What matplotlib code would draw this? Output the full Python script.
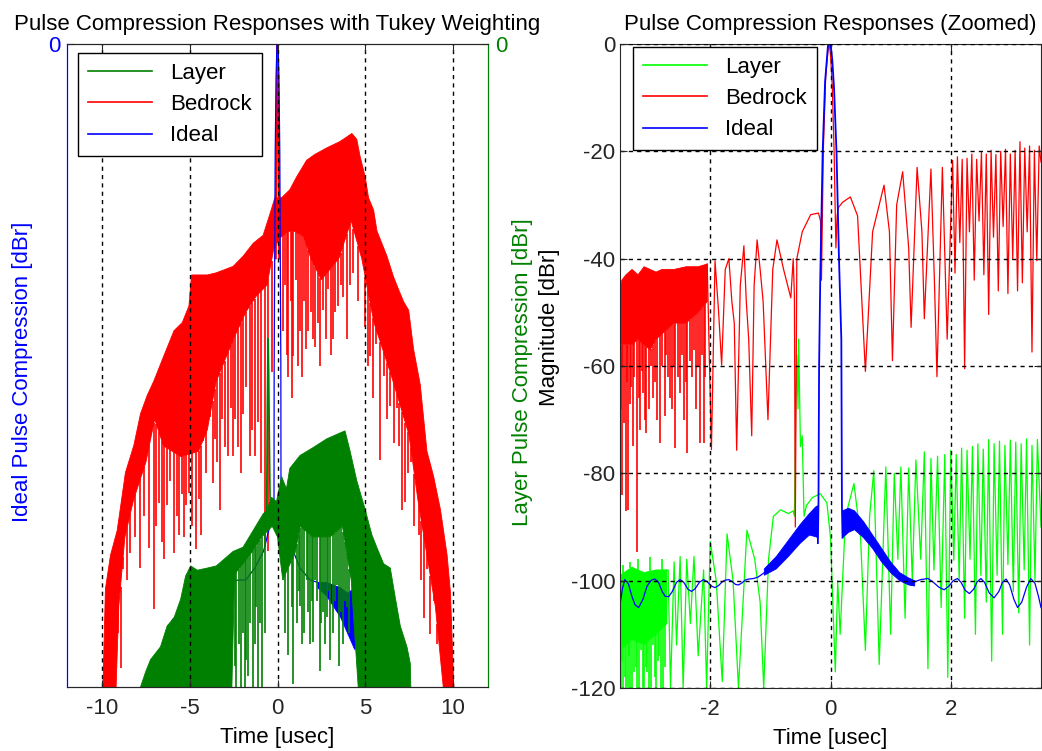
import numpy as np
import matplotlib
matplotlib.use("Agg")
import matplotlib.pyplot as plt
from matplotlib.lines import Line2D

plt.rcParams['font.family'] = ['Liberation Sans', 'DejaVu Sans']
plt.rcParams['axes.unicode_minus'] = False

# ---------------- data: left panel (full view), time [usec], level [dBr] ----------------
L_xticks = [-10, -5, 0, 5, 10]

bed_up_t = [-9.95, -9.81, -9.52, -9.14, -8.67, -8.19, -7.81, -7.43, -7.05, -6.48, -5.9, -5.43, -5.05, -4.9,
            -4.0, -3.49, -2.53, -1.96, -1.39, -0.82, -0.44, -0.15, 0.23, 0.7, 1.09, 1.66, 2.13, 2.8, 3.56,
            4.24, 4.52, 4.71, 5.0, 5.19, 5.48, 5.67, 5.95, 6.24, 6.62, 6.9, 7.19, 7.48, 7.76, 8.14, 8.52,
            8.9, 9.29, 9.67, 9.86, 10.05]
bed_up_db = [-120, -101.7, -95.4, -90.8, -80, -74.9, -69, -65.6, -62.9, -58.2, -53.5, -52, -48.9, -43.1,
             -43.1, -42.7, -41.5, -39.6, -37.2, -35.7, -31.8, -28.7, -28.7, -27.2, -24.8, -21.7, -20.6, -19.4,
             -18.2, -16.7, -17.8, -21, -24.8, -28.7, -31, -34.9, -37.2, -39.6, -43.5, -45.8, -48.1, -49.7,
             -57, -63.6, -76, -80.7, -86.9, -95.4, -102.4, -120]
bed_lo_t = [-9.95, -9.2, -9.05, -8.7, -8.2, -7.5, -7.0, -6.5, -5.5, -4.5, -4.0, -3.5, -2.5, -1.8, -1.2,
            -0.6, -0.2, 0.2, 0.6, 1.0, 1.5, 1.9, 2.5, 3.5, 4.2, 4.8, 5.5, 6.5, 7.5, 8.0, 8.5, 9.0, 9.45, 10.05]
bed_lo_db = [-120, -120, -105, -92, -85, -78, -70, -75, -77, -76, -72, -63, -55, -50, -47,
             -45, -38, -36, -35, -35, -36, -40, -44, -40, -33, -40, -52, -62, -73, -85, -95, -105, -120, -120]
bed_sp_t = [-9.33, -9.1, -8.95, -8.8, -8.57, -8.4, -8.1, -7.81, -7.6, -7.3, -7.05, -6.9, -6.76, -6.6, -6.48,
            -6.3, -6.1, -5.9, -5.75, -5.62, -5.45, -5.33, -5.2, -5.05, -4.85, -4.67, -4.5, -4.38,
            -4.25, -4.05, -3.87, -3.7, -3.58, -3.45, -3.3, -3.15, -3.01, -2.82, -2.65, -2.53, -2.4, -2.25,
            -2.1, -1.96, -1.8, -1.58, -1.45, -1.3, -1.1, -0.95, -0.72, -0.53, -0.34,
            0.32, 0.45, 0.53, 0.61, 0.75, 0.82, 0.9, 1.05, 1.15, 1.28, 1.37, 1.5, 1.6, 1.75, 1.9, 2.0, 2.13,
            2.3, 2.45, 2.61, 2.75, 2.9, 3.05, 3.18, 3.3, 3.47, 3.6,
            3.76, 3.95, 4.15, 4.33, 4.6, 5.0, 5.15, 5.29, 5.45, 5.6, 5.86, 6.05, 6.25, 6.43, 6.62, 6.8, 6.95,
            7.1, 7.29, 7.45, 7.6, 7.8, 8.05, 8.2, 8.33, 8.5, 8.71, 8.9, 9.1, 9.3, 9.67]
bed_sp_db = [-111.7, -104, -116.4, -98, -100.1, -95, -92, -97.8, -88, -94, -105.5, -90, -85.7, -93, -96.2,
             -86, -81.5, -95, -88, -91.6, -84, -92, -86, -83.8, -90, -94.3, -85, -91.6,
             -69, -80, -65.2, -82, -73.7, -78, -86.9, -70, -75.3, -76.8, -68, -76.8, -70, -75.3,
             -80, -69, -64, -76.8, -72, -76.8, -70.6, -80, -93.9, -94.7, -61.3,
             -53.5, -45, -58, -62.1, -48, -66, -58.2, -44, -60, -53.5, -62.1, -48, -57, -53.5, -50, -55, -56.6,
             -52, -60, -49.7, -55, -45.8, -58, -55.1, -50, -48.9, -45,
             -47.3, -55.1, -45, -42.7, -48, -52.8, -60, -58.2, -66, -56, -77.6, -62, -70, -67.5, -74.5, -68,
             -75, -86.9, -85.4, -80, -78, -90, -91.6, -100, -107.1, -98, -110.2, -104, -112, -115, -118]
bed_main_t = [-0.1, -0.05, -0.02, 0.0, 0.02, 0.05, 0.1]
bed_main_db = [-40, -12, -2, 0, -2, -12, -40]

lay_up_t = [-7.81, -7.52, -7.24, -6.67, -6.29, -5.9, -5.52, -5.24, -4.95, -4.57, -4.0, -3.49, -2.53, -1.96,
            -1.39, -0.82, -0.6, -0.34, -0.06, 0.23, 0.51, 0.7, 1.28, 2.04, 2.8, 3.56, 3.85, 4.14, 4.52, 5.0,
            5.38, 5.67, 6.05, 6.43, 6.71, 7.0, 7.38, 7.57, 7.6]
lay_up_db = [-120, -117.2, -114.9, -112.5, -108.6, -107.1, -103.6, -99.3, -97.4, -98.2, -97.8, -97.4, -94.7,
             -93.9, -90.8, -87.7, -87, -84.6, -85.4, -80.7, -83, -79.2, -76.8, -75.3, -73.7, -72.6, -72.2,
             -76, -81.5, -86.9, -91.6, -94, -97, -97.8, -103.2, -108.6, -112.5, -115.6, -120]
lay_lo_t = [-7.81, -2.6, -2.45, -1.5, -0.9, -0.3, 0.0, 0.3, 1.0, 1.3, 2.0, 3.0, 3.7, 4.2, 4.6, 7.6]
lay_lo_db = [-120, -120, -99, -95, -92, -90, -92, -100, -95, -90, -92, -92, -90, -100, -120, -120]
lay_sp_t = [-2.4, -2.34, -2.2, -2.06, -1.95, -1.87, -1.78, -1.68, -1.55, -1.39, -1.3, -1.22, -1.1, -1.0,
            -0.91, -0.72, 0.32, 0.45, 0.61, 0.8, 0.9, 1.1, 1.2, 1.28, 1.4, 1.5, 1.66, 1.75, 1.85, 1.95, 2.04,
            2.15, 2.25, 2.42, 2.5, 2.6, 2.7, 2.8, 2.9, 3.0, 3.18, 3.28, 3.37, 3.5, 3.62, 3.75, 3.85, 3.95, 4.1]
lay_sp_db = [-116, -120, -112, -120, -110, -120, -115, -118, -108, -120, -112, -105, -120, -108,
             -120, -110, -100, -110, -114, -105, -119.5, -108, -102, -104.8, -112, -110, -100, -106, -112,
             -104, -111.6, -100, -104, -117, -108, -106, -112, -107, -102, -115, -110, -104, -101, -116,
             -106, -112, -104, -105, -110]
lay_pk_t = [-0.62, -0.58, -0.55, -0.53, -0.5, -0.46, -0.42]
lay_pk_db = [-88, -68, -58, -55, -62, -75, -86]

ide_t = [-6.3, -6.0, -5.0, -4.0, -3.0, -2.53, -1.8, -1.3, -0.8, -0.5, -0.3, -0.2, -0.19, -0.13, -0.08,
         -0.03, 0.03, 0.08, 0.13, 0.19, 0.2, 0.35, 0.7, 1.28, 1.85, 2.3]
ide_db = [-120, -107.5, -104, -102, -100.5, -100.1, -100, -97.8, -94.7, -90.8, -88.5, -85.4, -60, -20, -6,
          0, 0, -6, -20, -60, -85.4, -88.5, -93, -97.8, -100, -100.5]
ide_band_t = [2.3, 2.8, 3.2, 3.6, 4.0, 4.4, 4.8, 5.0]
ide_band_hi = [-100.5, -100.5, -101, -101.5, -102.5, -101.5, -103.5, -108]
ide_band_lo = [-101.5, -103, -105, -107, -110, -113, -112, -118]
ide_sp_t = [4.95, 5.1, 5.2, 5.35, 5.5, 5.7, 5.9, 6.1, 6.3]
ide_sp_top = [-108, -112, -113, -110, -112, -116, -113, -114, -117]
ide_sp_bot = [-120, -118, -120, -117, -120, -120, -119, -120, -120]

# ---------------- data: right panel (zoomed) ----------------
R_xticks = [-2, 0, 2]
R_yticks = [0, -20, -40, -60, -80, -100, -120]

rb_blk_t = [-3.5, -3.47, -3.4, -3.3, -3.2, -3.1, -3.0, -2.9, -2.8, -2.6, -2.4, -2.2, -2.05]
rb_blk_hi = [-46, -44, -43, -42, -43, -41.5, -42, -42.5, -42, -42, -41.5, -41.5, -41]
rb_blk_lo = [-58, -56, -56, -56, -55, -56, -57, -55, -54, -52, -52, -50, -48]
rb_sp_t = [-3.49, -3.47, -3.46, -3.43, -3.4, -3.38, -3.36, -3.33, -3.31, -3.29, -3.26, -3.22, -3.19, -3.17,
           -3.14, -3.12, -3.09, -3.06, -3.02, -2.99, -2.95, -2.92, -2.88, -2.83, -2.8, -2.76, -2.73, -2.7,
           -2.67, -2.64, -2.61, -2.58, -2.54, -2.5, -2.47, -2.44, -2.41, -2.38, -2.34, -2.3, -2.27, -2.24,
           -2.2, -2.17, -2.14, -2.11, -2.08]
rb_sp_db = [-68, -60, -84, -70.6, -87, -63, -86.8, -67, -64, -75, -62, -94.6, -66, -72, -61, -65, -70,
            -72.5, -68, -60, -66, -63, -70, -74.4, -60, -69.4, -58, -62, -66, -68, -60, -75.3, -62, -65, -58,
            -70, -63, -76.2, -59, -62, -57, -68, -60, -74.4, -58, -74.4, -62]
rb_t = [-2.05, -1.98, -1.92, -1.86, -1.81, -1.75, -1.69, -1.64, -1.6, -1.56, -1.5, -1.44, -1.4, -1.36, -1.31,
        -1.27, -1.22, -1.17, -1.12, -1.04, -0.96, -0.89, -0.78, -0.66, -0.62, -0.6, -0.585, -0.56, -0.47,
        -0.33, -0.2, -0.165, -0.15,
        -0.12, -0.08, -0.04, -0.02, 0.0, 0.03, 0.06, 0.09, 0.11, 0.13, 0.2, 0.33, 0.45, 0.58, 0.7, 0.89,
        0.98, 1.03, 1.1, 1.2, 1.3, 1.34, 1.44, 1.52, 1.56, 1.67, 1.73, 1.77, 1.86, 1.94,
        2.03, 2.07, 2.11, 2.15, 2.19, 2.23, 2.27, 2.31, 2.35, 2.39, 2.43, 2.47, 2.51, 2.55, 2.59, 2.63,
        2.67, 2.71, 2.75, 2.79, 2.83, 2.87, 2.91, 2.95, 2.99, 3.03, 3.07, 3.11, 3.15, 3.19, 3.23, 3.27,
        3.31, 3.35, 3.39, 3.43, 3.47, 3.5]
rb_db = [-41, -75.6, -40.4, -50, -59.8, -42, -40, -48, -52, -75.7, -45, -37.6, -48, -55, -73,
         -45, -36.5, -42, -48, -70, -42, -36.5, -42, -47.3, -40, -47, -90, -40, -35,
         -31.8, -31.5, -33, -44,
         -20, -6, -1, 0, -2, -8, -20, -38, -32, -30.5, -29.5, -28.5, -32, -61, -35, -26.3,
         -35, -59, -30, -23.8, -38, -52.8, -23, -35, -51.2, -23.3, -45, -62, -23, -55,
         -21.7, -42.7, -21.0, -37, -21.5, -60.5, -21.3, -35, -20.5, -44, -21.5, -33, -20.2, -43, -20.5,
         -50.4, -19.8, -36, -20.6, -46, -20.0, -34, -19.6, -46.5, -20.5, -40, -19.8, -46, -18.2, -44.5,
         -19.4, -35, -19.0, -57.4, -19.8, -40.4, -19.0, -22]

rg_blk_t = [-3.5, -3.3, -3.1, -2.9, -2.72]
rg_blk_hi = [-99, -97.5, -98.5, -98, -98]
rg_blk_lo = [-113, -111, -112, -110, -108]
rg_sp_t = [-3.49, -3.47, -3.45, -3.42, -3.4, -3.37, -3.35, -3.33, -3.3, -3.27, -3.24, -3.21, -3.18, -3.15,
           -3.12, -3.1, -3.07, -3.05, -3.02, -2.98, -2.95, -2.92, -2.9, -2.87, -2.85, -2.81, -2.78, -2.75]
rg_sp_db = [-120, -115, -120, -118, -120, -120, -114, -120, -120, -117, -116, -120, -120, -113,
            -120, -120, -116, -117, -120, -120, -112, -118, -120, -115, -114, -120, -120, -116]
rg_up_t = [-3.45, -3.33, -3.2, -3.0, -2.8]
rg_up_db = [-97, -96.5, -96, -95.5, -96]
rg_t = [-2.72, -2.7, -2.66, -2.6, -2.56, -2.5, -2.45, -2.39, -2.33, -2.27, -2.2, -2.11, -2.06, -2.0, -1.9,
        -1.8, -1.72, -1.62, -1.53, -1.39, -1.26, -1.17, -1.11, -1.03, -0.95, -0.83, -0.7, -0.62, -0.6,
        -0.58, -0.56, -0.54, -0.53, -0.51, -0.5, -0.47, -0.44, -0.4, -0.3, -0.17, -0.06, 0.0, 0.08, 0.12,
        0.16, 0.25, 0.39, 0.5, 0.58, 0.65,
        0.72, 0.81, 0.92, 1.0, 1.06, 1.12, 1.17, 1.24, 1.3, 1.36, 1.42, 1.5, 1.56, 1.62, 1.67, 1.72, 1.78,
        1.84, 1.9, 1.95, 2.0, 2.05, 2.09, 2.14, 2.18, 2.23, 2.27, 2.32, 2.36, 2.41, 2.45, 2.5, 2.54, 2.59,
        2.63, 2.68, 2.72, 2.77, 2.81, 2.86, 2.9, 2.95, 2.99, 3.04, 3.08, 3.13, 3.17, 3.22, 3.26, 3.31,
        3.35, 3.4, 3.44, 3.5]
rg_db = [-98, -98, -120, -96.5, -112, -95.5, -120, -96, -108, -95.5, -114, -98, -120, -92.7, -100,
         -118.8, -91.3, -100, -120, -90.6, -96, -104, -120, -96, -88, -86.8, -87.5, -87, -88,
         -70, -58, -68, -55, -68, -75, -73, -88, -86, -84.5, -83.8, -85.5, -92, -117, -100,
         -110, -88, -81.9, -92, -113, -88,
         -79.5, -115.6, -78.8, -110, -80, -96, -78.8, -107, -79, -100, -77.5, -96, -76, -116.4, -77.2, -98,
         -76.8, -105, -76.5, -118, -75.7, -96.2, -76.5, -100, -75.3, -107, -75.7, -96, -75, -110, -74.5,
         -99, -75.5, -104, -73.7, -115, -74.5, -99, -74, -110, -74.8, -97, -73.8, -102, -74.2, -106, -74.5,
         -98, -73.6, -112, -74.8, -100, -73.7, -90]

ri_L_t = [-3.5, -3.46, -3.42, -3.36, -3.3, -3.25, -3.19, -3.12, -3.05, -2.98, -2.92, -2.86, -2.8, -2.75,
          -2.69, -2.63, -2.56, -2.5, -2.44, -2.37, -2.31, -2.25, -2.18, -2.11, -2.05, -1.98, -1.92, -1.86,
          -1.8, -1.75, -1.69, -1.63, -1.58, -1.53, -1.47, -1.42, -1.36, -1.28, -1.2, -1.1]
ri_L_db = [-104.5, -101.5, -99.8, -100.6, -103, -104.5, -105, -103.5, -101, -99.9, -99.7, -100.3, -102,
           -102.9, -103, -102, -100.3, -99.8, -100.3, -101.6, -102, -101.5, -100.3, -99.8, -100.2, -101,
           -101.3, -100.9, -100.2, -99.9, -99.8, -100.2, -100.7, -100.8, -100.4, -99.9, -99.7, -99.6,
           -99.3, -98.5]
ri_bl_t = [-1.1, -0.9, -0.7, -0.5, -0.35, -0.25, -0.21]
ri_bl_hi = [-97.8, -95.5, -92.5, -89.5, -87.5, -86.3, -86]
ri_bl_lo = [-99, -97.8, -95.5, -93, -91.5, -91.8, -92]
ri_m_t = [-0.21, -0.2, -0.19, -0.17, -0.13, -0.09, -0.04, 0.0, 0.03, 0.06, 0.1, 0.14, 0.18, 0.19, 0.2]
ri_m_db = [-93, -86, -60.5, -43.5, -20, -7, 0, 0, -3, -8.5, -20.2, -39.6, -55, -86, -92]
ri_br_t = [0.2, 0.3, 0.4, 0.55, 0.7, 0.85, 1.0, 1.15, 1.3, 1.4]
ri_br_hi = [-87, -86.5, -87, -89, -91.5, -94, -96.5, -98.5, -99.5, -100]
ri_br_lo = [-92, -91, -90.5, -92, -94, -96.5, -98.5, -100, -100.8, -101]
ri_R_t = [1.4, 1.5, 1.62, 1.7, 1.8, 1.89, 1.97, 2.04, 2.11, 2.17, 2.24, 2.31, 2.38, 2.44, 2.5, 2.56, 2.64,
          2.72, 2.8, 2.86, 2.92, 2.98, 3.05, 3.11, 3.18, 3.26, 3.33, 3.4, 3.46, 3.5]
ri_R_db = [-100.2, -99.8, -99.6, -100.2, -101.2, -101.7, -101, -100, -99.6, -100.3, -101.8, -102.4, -101.6,
           -100.2, -99.6, -100.3, -102.3, -103.2, -102, -100.3, -99.7, -100.8, -103.5, -105, -104, -101.2,
           -99.6, -100.5, -103, -105]

series_names = ["Layer", "Bedrock", "Ideal"]

# ---------------- styling ----------------
C_LAYER_L = (0, 0.5, 0)
C_LAYER_R = (0, 1, 0)
C_BED = (1, 0, 0)
C_IDE = (0, 0, 1)
FS = 16
LW = 0.9
LW_SP = 1.2
GRID = dict(color='k', linestyle=(0, (3, 3)), linewidth=1.0)
AXC = '#262626'

fig = plt.figure(figsize=(10.42, 7.51), dpi=100)
W, H = 1042.0, 751.0
axL = fig.add_axes([67 / W, 1 - 687 / H, (488 - 67) / W, (687 - 44) / H])
axR = fig.add_axes([620 / W, 1 - 688 / H, (1041 - 620) / W, (688 - 44) / H])


def poly(ax, t_up, y_up, t_lo, y_lo, color, z):
    xs = list(t_up) + list(t_lo)[::-1]
    ys = list(y_up) + list(y_lo)[::-1]
    ax.fill(xs, ys, color=color, lw=0.6, ec=color, zorder=z)


def spikes(ax, t, bot, ref_t, ref_y, color, z):
    top = np.interp(t, ref_t, ref_y)
    ax.vlines(t, bot, top, color=color, lw=LW_SP, zorder=z)


# ---- left panel ----  (drawing order: Bedrock, Ideal, Layer)
poly(axL, bed_up_t, bed_up_db, bed_lo_t, bed_lo_db, C_BED, 1.0)
spikes(axL, bed_sp_t, bed_sp_db, bed_lo_t, bed_lo_db, C_BED, 1.0)
axL.plot(bed_main_t, bed_main_db, color=C_BED, lw=1.5, zorder=1.05)

axL.plot(ide_t, ide_db, color=C_IDE, lw=LW, zorder=1.2)
poly(axL, ide_band_t, ide_band_hi, ide_band_t, ide_band_lo, C_IDE, 1.2)
axL.vlines(ide_sp_t, ide_sp_bot, ide_sp_top, color=C_IDE, lw=LW_SP, zorder=1.2)

poly(axL, lay_up_t, lay_up_db, lay_lo_t, lay_lo_db, C_LAYER_L, 1.4)
spikes(axL, lay_sp_t, lay_sp_db, lay_lo_t, lay_lo_db, C_LAYER_L, 1.4)
axL.plot(lay_pk_t, lay_pk_db, color=C_LAYER_L, lw=LW_SP, zorder=1.4)

axL.set_xlim(-12, 12)
axL.set_ylim(-120, 0)
axL.set_xticks(L_xticks)
axL.set_yticks([0])
axL.set_axisbelow(False)
axL.xaxis.grid(True, **GRID)
axL.tick_params(axis='x', direction='in', top=True, length=5, labelsize=FS, colors=AXC, pad=8)
axL.tick_params(axis='y', direction='in', length=5, labelsize=FS, colors=C_IDE, pad=5)
for s in ['top', 'bottom']:
    axL.spines[s].set_color(AXC)
axL.spines['left'].set_color(C_IDE)
axL.spines['right'].set_color(C_LAYER_L)
axL.set_xlabel("Time [usec]", fontsize=FS, color='k', labelpad=6)
axL.set_ylabel("Ideal Pulse Compression [dBr]", fontsize=FS, color=C_IDE)
axL.yaxis.set_label_coords(-0.08, 0.49)
axL.set_title("Pulse Compression Responses with Tukey Weighting", fontsize=FS, pad=10)

axL2 = axL.twinx()
axL2.set_ylim(-120, 0)
axL2.set_yticks([0])
axL2.tick_params(axis='y', direction='in', length=5, labelsize=FS, colors=C_LAYER_L, pad=5)
axL2.spines['right'].set_color(C_LAYER_L)
axL2.spines['left'].set_color(C_IDE)
axL2.spines['top'].set_color(AXC)
axL2.spines['bottom'].set_color(AXC)
axL2.set_ylabel("Layer Pulse Compression [dBr]", fontsize=FS, color=C_LAYER_L, rotation=90)
axL2.yaxis.set_label_coords(1.057, 0.49)

hL = [Line2D([], [], color=C_LAYER_L, lw=1.2), Line2D([], [], color=C_BED, lw=1.2),
      Line2D([], [], color=C_IDE, lw=1.2)]
legL = axL2.legend(hL, series_names, loc='upper left', bbox_to_anchor=(78 / W, 1 - 53 / H),
                   bbox_transform=fig.transFigure, fontsize=FS, fancybox=False, edgecolor='k',
                   framealpha=1, handlelength=2.9, handletextpad=0.8, labelspacing=0.46,
                   borderpad=0.45, borderaxespad=0)
legL.get_frame().set_linewidth(1.0)

# ---- right panel ----
poly(axR, rg_blk_t, rg_blk_hi, rg_blk_t, rg_blk_lo, C_LAYER_R, 1.0)
spikes(axR, rg_sp_t, rg_sp_db, rg_blk_t, rg_blk_lo, C_LAYER_R, 1.0)
axR.vlines(rg_up_t, np.interp(rg_up_t, rg_blk_t, rg_blk_hi), rg_up_db, color=C_LAYER_R, lw=LW_SP, zorder=1.0)
axR.plot(rg_t, rg_db, color=C_LAYER_R, lw=LW, zorder=1.1)

poly(axR, rb_blk_t, rb_blk_hi, rb_blk_t, rb_blk_lo, C_BED, 1.2)
spikes(axR, rb_sp_t, rb_sp_db, rb_blk_t, rb_blk_lo, C_BED, 1.2)
axR.plot(rb_t, rb_db, color=C_BED, lw=LW, zorder=1.3)

axR.plot(ri_L_t, ri_L_db, color=C_IDE, lw=LW, zorder=1.5)
poly(axR, ri_bl_t, ri_bl_hi, ri_bl_t, ri_bl_lo, C_IDE, 1.5)
axR.plot(ri_m_t, ri_m_db, color=C_IDE, lw=1.3, zorder=1.4)
poly(axR, ri_br_t, ri_br_hi, ri_br_t, ri_br_lo, C_IDE, 1.5)
axR.plot(ri_R_t, ri_R_db, color=C_IDE, lw=LW, zorder=1.5)

axR.set_xlim(-3.5, 3.5)
axR.set_ylim(-120, 0)
axR.set_xticks(R_xticks)
axR.set_yticks(R_yticks)
axR.set_axisbelow(False)
axR.grid(True, **GRID)
axR.tick_params(direction='in', top=True, right=True, length=5, labelsize=FS, colors=AXC)
axR.tick_params(axis='x', pad=8)
for s in axR.spines.values():
    s.set_color(AXC)
axR.set_xlabel("Time [usec]", fontsize=FS, color='k', labelpad=6)
axR.set_ylabel("Magnitude [dBr]", fontsize=FS, color='k')
axR.yaxis.set_label_coords(-0.143, 0.56)
axR.set_title("Pulse Compression Responses (Zoomed)", fontsize=FS, pad=10)

hR = [Line2D([], [], color=C_LAYER_R, lw=1.2), Line2D([], [], color=C_BED, lw=1.2),
      Line2D([], [], color=C_IDE, lw=1.2)]
legR = axR.legend(hR, series_names, loc='upper left', bbox_to_anchor=(633 / W, 1 - 47 / H),
                  bbox_transform=fig.transFigure, fontsize=FS, fancybox=False, edgecolor='k',
                  framealpha=1, handlelength=2.9, handletextpad=0.8, labelspacing=0.46,
                  borderpad=0.45, borderaxespad=0)
legR.get_frame().set_linewidth(1.0)

fig.savefig("out.png", dpi=100, facecolor='white')
